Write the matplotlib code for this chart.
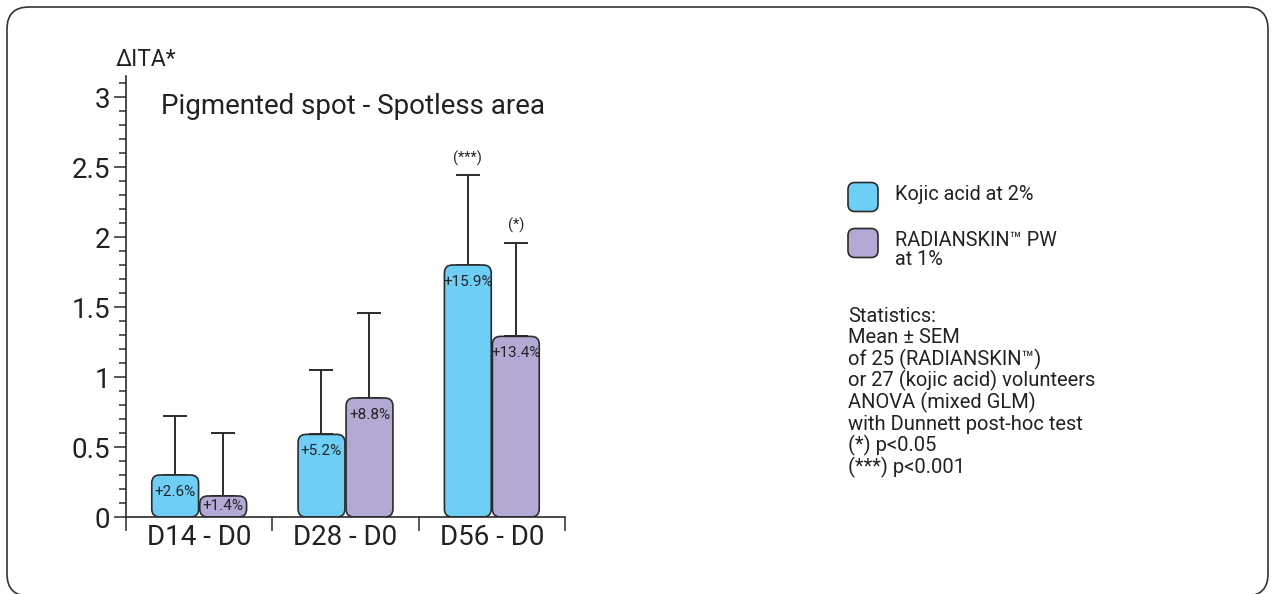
import numpy as np
import matplotlib
matplotlib.use("Agg")
import matplotlib.pyplot as plt
from matplotlib.patches import FancyBboxPatch

plt.rcParams['font.family'] = ['Roboto', 'DejaVu Sans']

# ---- data ----
periodos = ["D14 - D0", "D28 - D0", "D56 - D0"]
kojic = [0.30, 0.59, 1.80]
kojic_err = [0.42, 0.46, 0.64]
radian = [0.15, 0.85, 1.29]
radian_err = [0.45, 0.61, 0.67]
kojic_pct = ["+2.6%", "+5.2%", "+15.9%"]
radian_pct = ["+1.4%", "+8.8%", "+13.4%"]
kojic_sig = ["", "", "(***)"]
radian_sig = ["", "", "(*)"]
stats_lines = [
    "Statistics:",
    "Mean \u00b1 SEM",
    "of 25 (RADIANSKIN\u2122)",
    "or 27 (kojic acid) volunteers",
    "ANOVA (mixed GLM)",
    "with Dunnett post-hoc test",
    "(*) p<0.05",
    "(***) p<0.001",
]

azul = "#6dcff6"
lila = "#b3a9d4"
borde = "#2b2b2b"
texto = "#222222"

W, H = 1275, 594
fig = plt.figure(figsize=(W / 100, H / 100), dpi=100)

# fondo con marco redondeado
fondo = fig.add_axes([0, 0, 1, 1], zorder=-1)
fondo.set_xlim(0, W)
fondo.set_ylim(H, 0)
fondo.axis('off')
fondo.add_patch(FancyBboxPatch((7, 7), W - 14, H - 5,
                               boxstyle="round,pad=0,rounding_size=22",
                               facecolor='white', edgecolor='#333333', linewidth=1.2))

# ejes principales
ax = fig.add_axes([126 / W, 1 - 517 / H, 439 / W, 441 / H])
ax.patch.set_alpha(0)
ax.set_xlim(-0.5, 2.5)
ax.set_ylim(0, 3.15)

px_x = 439 / 3.0      # pixeles por unidad x
px_y = 441 / 3.15     # pixeles por unidad y
ancho = 48 / px_x
radio = 8 / px_x
aspecto = px_x / px_y

x = np.arange(len(periodos))
for serie, err, etiquetas, sig, color, desplaz in [
    (kojic, kojic_err, kojic_pct, kojic_sig, azul, -ancho / 2),
    (radian, radian_err, radian_pct, radian_sig, lila, ancho / 2),
]:
    xs = x + desplaz
    ax.errorbar(xs, serie, yerr=[np.zeros(len(serie)), err], fmt='none',
                ecolor=borde, elinewidth=1.4, capsize=8.5, capthick=1.4, zorder=1)
    for xi, h, e, lab, s in zip(xs, serie, err, etiquetas, sig):
        ax.add_patch(FancyBboxPatch((xi - ancho / 2 + 0.004, 0), ancho - 0.008, h,
                                    boxstyle=f"round,pad=0,rounding_size={radio}",
                                    mutation_aspect=aspecto,
                                    facecolor=color, edgecolor=borde, linewidth=1.2,
                                    zorder=2))
        ty = max(h - 0.12, h / 2)
        ax.text(xi, ty, lab, ha='center', va='center', fontsize=11,
                color=texto, zorder=3)
        if s:
            ax.text(xi, h + e + 0.07, s, ha='center', va='bottom', fontsize=10.5,
                    color=texto)

for lado in ['top', 'right']:
    ax.spines[lado].set_visible(False)
for lado in ['left', 'bottom']:
    ax.spines[lado].set_color(borde)
    ax.spines[lado].set_linewidth(1.2)

ax.set_yticks(np.arange(0, 3.01, 0.5))
ax.set_yticklabels(["0", "0.5", "1", "1.5", "2", "2.5", "3"])
ax.set_yticks(np.arange(0, 3.151, 0.1), minor=True)
ax.tick_params(axis='y', which='major', direction='out', length=8.6, width=1.1,
               color=borde, labelsize=20, labelcolor=texto, pad=3)
ax.tick_params(axis='y', which='minor', direction='out', length=5, width=1.1,
               color=borde)

ax.set_xticks([-0.5, 0.5, 1.5, 2.5])
ax.set_xticklabels([])
ax.set_xticks(x, minor=True)
ax.set_xticklabels(periodos, minor=True)
ax.tick_params(axis='x', which='major', direction='out', length=10, width=1.1,
               color=borde)
ax.tick_params(axis='x', which='minor', length=0, labelsize=20,
               labelcolor=texto, pad=5)

# textos y leyenda en coordenadas de pixel
ov = fig.add_axes([0, 0, 1, 1])
ov.set_xlim(0, W)
ov.set_ylim(H, 0)
ov.axis('off')
ov.patch.set_alpha(0)

ov.text(116, 60, "\u0394ITA*", ha='left', va='center', fontsize=16.5, color=texto)
ov.text(161, 107, "Pigmented spot - Spotless area", ha='left', va='center',
        fontsize=20, color=texto)

for yy, color, lab in [(197, azul, "Kojic acid at 2%"),
                       (243, lila, "RADIANSKIN\u2122 PW\nat 1%")]:
    ov.add_patch(FancyBboxPatch((848, yy - 14.5), 30, 29,
                                boxstyle="round,pad=0,rounding_size=7",
                                facecolor=color, edgecolor=borde, linewidth=1.2))
    ov.text(895, yy - 12, lab, ha='left', va='top', fontsize=14.3,
            color=texto, linespacing=1.0)

for i, linea in enumerate(stats_lines):
    ov.text(848, 316 + i * 21.6, linea, ha='left', va='center', fontsize=14.5,
            color=texto)

fig.savefig("out.png", dpi=100)
